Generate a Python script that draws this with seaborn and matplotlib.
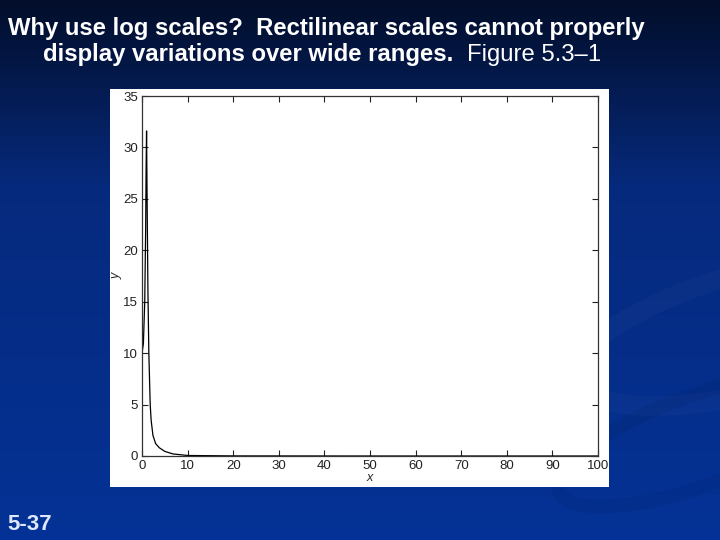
import numpy as np
import matplotlib
matplotlib.use("Agg")
import matplotlib.pyplot as plt
import seaborn as sns
from matplotlib.patches import Rectangle, Ellipse

# ---- data ----
x_vals = [0, 0.3, 0.6, 0.8, 0.9, 1.0, 1.1, 1.3, 1.5, 1.8, 2.0, 2.4, 3.0, 3.8, 5.0, 6.8, 10, 20, 50, 100]
y_vals = [10, 10.9, 15, 22, 28, 31.6, 26, 16, 10, 5, 3.5, 2.0, 1.2, 0.8, 0.45, 0.2, 0.05, 0.01, 0.0, 0.0]
x_ticks = [0, 10, 20, 30, 40, 50, 60, 70, 80, 90, 100]
y_ticks = [0, 5, 10, 15, 20, 25, 30, 35]
title_line1 = "Why use log scales?  Rectilinear scales cannot properly"
title_line2a = "display variations over wide ranges.  "
title_line2b = "Figure 5.3\u20131"
footer = "5-37"

sns.set_style("ticks")
plt.rcParams['font.family'] = ['Liberation Sans', 'DejaVu Sans']

W, H = 720, 540
fig = plt.figure(figsize=(7.2, 5.4), dpi=100)

# background gradient
bg = fig.add_axes([0, 0, 1, 1])
bg.set_axis_off()
t = np.linspace(0, 1, 256)
top = np.array([2, 14, 42]) / 255
mid = np.array([6, 42, 125]) / 255
bot = np.array([4, 50, 150]) / 255
cols = np.empty((256, 1, 3))
for i, v in enumerate(t):
    if v < 0.35:
        f = v / 0.35
        cols[i, 0] = top * (1 - f) + mid * f
    else:
        f = (v - 0.35) / 0.65
        cols[i, 0] = mid * (1 - f) + bot * f
img = np.repeat(cols, 4, axis=1)
bg.imshow(img, extent=[0, W, H, 0], aspect='auto', interpolation='bilinear')
# faint swooshes on the right
bg.add_patch(Ellipse((760, 330), 380, 120, angle=-15, fill=False, lw=14,
                     edgecolor=(1, 1, 1, 0.025)))
bg.add_patch(Ellipse((700, 440), 300, 90, angle=-20, fill=False, lw=10,
                     edgecolor=(0, 0, 0, 0.05)))
bg.set_xlim(0, W)
bg.set_ylim(H, 0)

# white figure panel
bg.add_patch(Rectangle((110, 89), 499, 398, facecolor='white', edgecolor='none'))

# plot axes
ax = fig.add_axes([142 / W, 1 - 456 / H, 456 / W, 360 / H])
sns.lineplot(x=x_vals, y=y_vals, ax=ax, color='black', lw=0.9, estimator=None, sort=False)
ax.set_xlim(0, 100)
ax.set_ylim(0, 35)
ax.set_xticks(x_ticks)
ax.set_yticks(y_ticks)
ax.tick_params(direction='in', length=4, width=0.8, labelsize=9.5, colors='#222222',
               top=True, right=True, pad=3)
for s in ax.spines.values():
    s.set_visible(True)
    s.set_color('#333333')
    s.set_linewidth(0.9)
ax.set_xlabel('x', fontsize=9, style='italic', labelpad=0)
ax.set_ylabel('y', fontsize=9, style='italic', labelpad=0)
ax.set_facecolor('white')

# slide text
fs = 17.2
fig.text(8 / W, 1 - 35 / H, title_line1, color='white', fontsize=fs, fontweight='bold',
         ha='left', va='baseline')
t2 = fig.text(43 / W, 1 - 61 / H, title_line2a, color='white', fontsize=fs, fontweight='bold',
              ha='left', va='baseline')
fig.canvas.draw()
bb = t2.get_window_extent()
fig.text(bb.x1 / W, 1 - 61 / H, title_line2b, color='white', fontsize=fs,
         ha='left', va='baseline')
fig.text(7 / W, 1 - 530 / H, footer, color='#dde8ff', fontsize=16, fontweight='bold',
         ha='left', va='baseline')

fig.savefig('out.png', dpi=100)
